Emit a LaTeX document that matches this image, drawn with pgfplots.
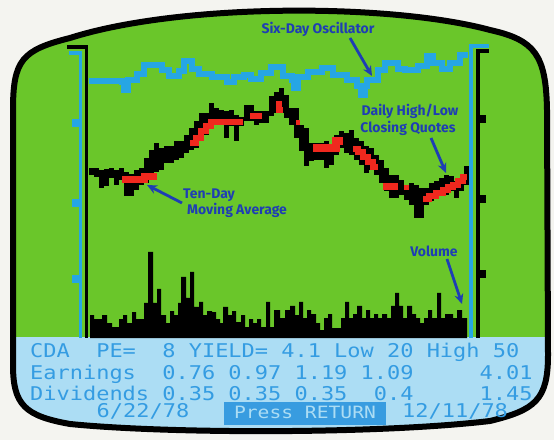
\documentclass[border=0pt]{standalone}
\usepackage{fontspec}
\usepackage{pgfplots}
\pgfplotsset{compat=1.18}
\usepackage{pgfplotstable}
\usetikzlibrary{arrows.meta}
\newfontfamily\monof[FakeStretch=1.16]{DejaVu Sans Mono}
\newfontfamily\annof{Fira Sans}
\definecolor{scrgreen}{RGB}{106,198,42}
\definecolor{oscblue}{RGB}{38,166,228}
\definecolor{panelbg}{RGB}{172,221,244}
\definecolor{paneltxt}{RGB}{52,156,226}
\definecolor{boxblue}{RGB}{56,156,224}
\definecolor{annoblue}{RGB}{30,62,180}
\definecolor{mared}{RGB}{240,40,30}
\definecolor{bgwhite}{RGB}{244,244,240}

\pgfplotstableread{
x hi lo
91.5 168 175
96.5 168 177
101.5 170 188
106.5 169 186
111.5 168 178
116.5 170 185
121.5 168 180
126.5 172 196
131.5 174 196
136.5 170 190
141.5 168 185
146.5 158 183
151.5 150 178
156.5 143 172
161.5 148 170
166.5 146 163
171.5 146 163
176.5 141 160
181.5 141 158
186.5 135 153
191.5 128 150
196.5 121 148
201.5 113 138
206.5 113 135
211.5 103 125
216.5 108 125
221.5 110 125
226.5 111 138
231.5 110 126
236.5 115 141
241.5 117 126
246.5 105 121
251.5 105 121
256.5 111 125
261.5 111 123
266.5 111 123
271.5 96 116
276.5 92 113
281.5 88 113
286.5 95 118
291.5 108 125
296.5 108 138
301.5 125 151
306.5 128 166
311.5 143 161
316.5 143 160
321.5 143 160
326.5 141 168
331.5 146 165
336.5 135 155
341.5 131 148
346.5 133 153
351.5 130 155
356.5 138 160
361.5 141 165
366.5 146 173
371.5 148 170
376.5 155 175
381.5 160 183
386.5 168 191
391.5 175 198
396.5 175 198
401.5 180 195
406.5 185 200
411.5 183 205
416.5 185 218
421.5 188 218
426.5 188 205
431.5 183 201
436.5 181 198
441.5 178 196
446.5 175 195
451.5 176 191
456.5 181 198
461.5 178 191
466.5 166 185
}\pricedata

\begin{document}
\begin{tikzpicture}[x=1bp,y=1bp]
\begin{scope}[yshift=440bp,y=-1bp]
\fill[bgwhite] (0,0) rectangle (554,440);
\fill[panelbg] (13,110) .. controls (13,60) and (22,50) .. (70,38) .. controls (180,3) and (390,3) .. (490,30) .. controls (535,40) and (546,55) .. (547,110) -- (548,355) .. controls (548,400) and (535,410) .. (490,421) .. controls (380,434) and (170,434) .. (70,424) .. controls (25,416) and (13,405) .. (13,365) -- cycle;
\begin{scope}
\clip (13,110) .. controls (13,60) and (22,50) .. (70,38) .. controls (180,3) and (390,3) .. (490,30) .. controls (535,40) and (546,55) .. (547,110) -- (548,355) .. controls (548,400) and (535,410) .. (490,421) .. controls (380,434) and (170,434) .. (70,424) .. controls (25,416) and (13,405) .. (13,365) -- cycle;
\fill[scrgreen] (0,0) rectangle (554,337);
\end{scope}
\draw[black,line width=6bp] (13,110) .. controls (13,60) and (22,50) .. (70,38) .. controls (180,3) and (390,3) .. (490,30) .. controls (535,40) and (546,55) .. (547,110) -- (548,355) .. controls (548,400) and (535,410) .. (490,421) .. controls (380,434) and (170,434) .. (70,424) .. controls (25,416) and (13,405) .. (13,365) -- cycle;
% frame lines
\draw[black,line width=3.5bp,line join=miter] (67,47) -- (86.5,47) -- (86.5,338);
\draw[oscblue,line width=3.5bp,line join=miter] (69,53) -- (80.5,53) -- (80.5,338);
\fill[oscblue] (72,119) rectangle (80,127);
\fill[oscblue] (72,199) rectangle (80,207);
\fill[oscblue] (72,275) rectangle (80,283);
\draw[oscblue,line width=3.5bp,line join=miter] (489,46) -- (471,46) -- (471,338);
\draw[black,line width=3.5bp,line join=miter] (489,51) -- (478,51) -- (478,338);
\fill[black] (478,115) rectangle (486,123);
\fill[black] (478,195) rectangle (486,203);
\fill[black] (478,270) rectangle (486,278);
\end{scope}

\begin{axis}[at={(0,0)},anchor=south west,width=554bp,height=440bp,scale only axis,
  xmin=0,xmax=554,ymin=0,ymax=440,y dir=reverse,hide axis,clip=false]
% six-day oscillator
\addplot[const plot,oscblue,line width=6.5bp,line join=miter] coordinates {
(89,81) (122,82) (124,90) (128,80) (137,74) (144,65) (162,70) (169,76) (179,71)
(184,61) (192,69) (199,74) (212,77) (227,82) (234,77) (244,75) (251,79) (261,73)
(271,67) (283,76) (292,80) (294,88) (298,77) (308,72) (322,68) (333,75) (347,80)
(357,86) (361,95) (365,86) (367,80) (378,70) (385,63) (398,69) (405,70) (418,66)
(427,56) (433,63) (442,69) (450,63) (460,55) (468,55)};
% volume
\addplot[fill=black,draw=none,const plot] coordinates {
(90,338)(90,315)(94,319)(102,315)(107,323)(112,327)(119,319)(123,315)(127,323)
(132,312)(136,319)(144,303)(148,252)(153,303)(157,289)(161,315)(166,323)(170,311)
(174,315)(178,303)(181,277)(186,298)(190,272)(194,307)(199,302)(203,315)(207,311)
(212,312)(216,319)(220,323)(223,307)(228,315)(232,311)(236,322)(241,315)(245,327)
(249,319)(253,323)(257,319)(261,327)(266,302)(270,327)(274,310)(280,318)(285,310)
(290,306)(295,315)(299,302)(303,318)(307,310)(311,314)(316,323)(320,330)(324,318)
(328,314)(332,328)(341,318)(345,302)(349,318)(353,314)(357,306)(362,318)(366,310)
(370,318)(374,314)(378,318)(382,314)(387,318)(391,306)(395,293)(399,306)(403,318)
(407,306)(412,314)(416,318)(420,323)(424,318)(428,310)(432,318)(437,293)(441,318)
(445,314)(449,314)(453,318)(457,310)(462,318)(467,338)};
% daily high/low
\addplot[draw=none,mark=none,forget plot,
  error bars/.cd,y dir=both,y explicit,error mark=none,
  error bar style={draw=black,line width=5.4bp}]
  table[x=x,y expr={(\thisrow{hi}+\thisrow{lo})/2},y error expr={(\thisrow{lo}-\thisrow{hi})/2}] {\pricedata};
% ten-day moving average (visible pieces)
\addplot[const plot,mared,line width=7bp] coordinates {(122,180)(144,177)(157,177)};
\addplot[const plot,mared,line width=6bp] coordinates {(190,143)(196,138)(201,131)(206,126)(211,122)(243,122)};
\addplot[const plot,mared,line width=6bp] coordinates {(250,116)(262,116)};
\addplot[const plot,mared,line width=6bp] coordinates {(276,104)(279,110)(283,110)};
\addplot[const plot,mared,line width=5bp] coordinates {(296,123)(300,123)};
\addplot[const plot,mared,line width=8bp] coordinates {(313,148)(332,148)(336,141)(343,141)};
\addplot[const plot,mared,line width=6bp] coordinates {(353,149)(358,152)(363,157)(368,162)(373,167)(378,167)};
\addplot[const plot,mared,line width=7bp] coordinates {(383,187)(398,187)};
\addplot[const plot,mared,line width=5bp] coordinates {(404,188)(409,188)};
\addplot[const plot,mared,line width=6bp] coordinates {(423,199)(429,196)(436,193)(443,190)(448,187)(453,185)(458,181)(463,177)(467,177)};
\end{axis}

\begin{scope}[yshift=440bp,y=-1bp]
% annotations
\begin{scope}[every node/.style={font=\annof\bfseries\fontsize{14}{15}\selectfont,text=annoblue,inner sep=0}]
\node at (318,29) {Six-Day Oscillator};
\node at (410,111) {Daily High/Low};
\node at (408,128) {Closing Quotes};
\node at (209,195) {Ten-Day};
\node at (237,210) {Moving Average};
\node at (434,251) {Volume};
\end{scope}
\begin{scope}[annoblue,line width=2.8bp,-{Stealth[length=10bp,width=9bp]}]
\draw (350,38) -- (372,76);
\draw (431,138) -- (446,173);
\draw (182,203) -- (147,185);
\draw (447,259) -- (462,304);
\end{scope}
% panel text
\begin{scope}[every node/.style={font=\monof\fontsize{19}{19}\selectfont,text=paneltxt,inner sep=0,anchor=base west}]
\node at (30,358) {CDA~~PE=~~8~YIELD=~4.1~Low~20~High~50};
\node at (30,380) {Earnings~~0.76~0.97~1.19~1.09~~~~~4.01};
\node at (30,401) {Dividends~0.35~0.35~0.35~~0.4~~~~~1.45};
\node at (96.5,418) {6/22/78};
\node at (402,418) {12/11/78};
\end{scope}
\fill[boxblue] (224,402) rectangle (386,425);
\node[font=\monof\fontsize{17}{18}\selectfont,text=panelbg,inner sep=0,anchor=base] at (305,419) {Press~RETURN};
\end{scope}
\pgfresetboundingbox
\path (0,0) rectangle (554,440);
\end{tikzpicture}
\end{document}
